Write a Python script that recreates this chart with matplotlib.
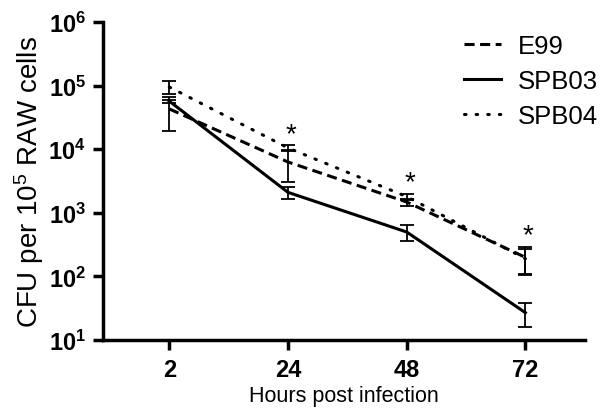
import numpy as np
import matplotlib
matplotlib.use("Agg")
import matplotlib.pyplot as plt
from matplotlib.lines import Line2D

plt.rcParams['font.family'] = ['Liberation Sans', 'DejaVu Sans']
plt.rcParams['mathtext.fontset'] = 'custom'
plt.rcParams['mathtext.rm'] = 'Liberation Sans'
plt.rcParams['mathtext.bf'] = 'Liberation Sans:bold'
plt.rcParams['mathtext.it'] = 'Liberation Sans:italic'

# data
hours = ['2', '24', '48', '72']
e99 = [43000, 6300, 1480, 200]
e99_err = [23500, 3300, 200, 95]
spb03 = [57000, 2100, 500, 27]
spb03_err = [3000, 450, 140, 11]
spb04 = [95000, 10500, 1800, 190]
spb04_err = [22000, 1000, 200, 80]
star_at = [1, 2, 3]

x = np.arange(len(hours))

fig = plt.figure(figsize=(6.01, 4.10), dpi=100)
ax = fig.add_axes([0.171, 0.168, 0.802, 0.776])

dash = (0, (3.3, 1.8))
dots = (0, (0.5, 3.3))
err_kw = dict(ecolor='black', elinewidth=1.3, capsize=5, capthick=1.3)
ax.errorbar(x, e99, yerr=e99_err, color='black', lw=2.2, ls=dash, **err_kw)
ax.errorbar(x, spb03, yerr=spb03_err, color='black', lw=2.2, ls='-', **err_kw)
ax.errorbar(x, spb04, yerr=spb04_err, color='black', lw=2.2, ls=dots,
            dash_capstyle='round', **err_kw)

# significance stars above the highest bar
tops = np.max([np.array(e99) + e99_err, np.array(spb04) + spb04_err,
               np.array(spb03) + spb03_err], axis=0)
for i in star_at:
    ax.annotate('*', (x[i], tops[i]), xytext=(2, -1), textcoords='offset points',
                ha='center', va='bottom', fontsize=20)

ax.set_yscale('log')
ax.set_ylim(10, 1e6)
ax.set_xlim(-0.56, 3.5)
yt = [10, 100, 1e3, 1e4, 1e5, 1e6]
ax.set_yticks(yt)
ax.set_yticklabels([r'$\mathbf{10^{%d}}$' % int(np.log10(v)) for v in yt])
ax.yaxis.set_minor_locator(matplotlib.ticker.NullLocator())
ax.set_xticks(x)
ax.set_xticklabels(hours, fontweight='bold')

for s in ['top', 'right']:
    ax.spines[s].set_visible(False)
for s in ['left', 'bottom']:
    ax.spines[s].set_linewidth(2.5)
ax.tick_params(axis='y', width=2.5, length=7, labelsize=17, pad=5)
ax.tick_params(axis='x', width=2.5, length=7, labelsize=17, pad=6)

ax.set_ylabel(r'CFU per 10$^{5}$ RAW cells', fontsize=20, labelpad=2)
ax.set_xlabel('Hours post infection', fontsize=15.5, labelpad=3)

handles = [Line2D([], [], color='black', lw=2.2, ls=dash),
           Line2D([], [], color='black', lw=2.2, ls='-'),
           Line2D([], [], color='black', lw=2.2, ls=dots, dash_capstyle='round')]
ax.legend(handles, ['E99', 'SPB03', 'SPB04'], loc='upper right',
          bbox_to_anchor=(1.075, 1.035), frameon=False, fontsize=18.5,
          handlelength=1.45, handletextpad=0.65, labelspacing=0.42)

fig.savefig('out.png', dpi=100)
